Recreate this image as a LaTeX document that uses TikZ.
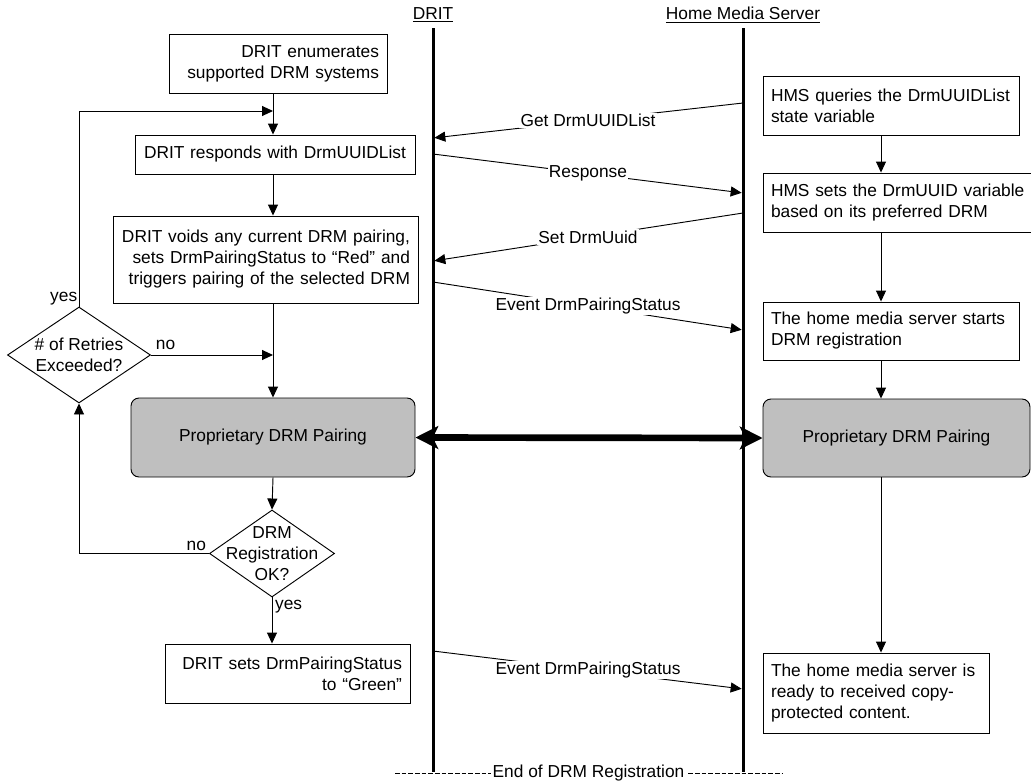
\documentclass[tikz,border=0pt]{standalone}
\usepackage{fontspec}
\setmainfont{Liberation Sans}
\usetikzlibrary{shapes.geometric}
\usetikzlibrary{arrows.meta}
\tikzset{
  box/.style={draw, inner xsep=6pt, inner ysep=0pt},
  pairing/.style={box, rounded corners=6pt, fill=black!25, align=center},
  decision/.style={diamond, draw, inner sep=0pt},
  flow/.style={-{Triangle[length=8.25pt,width=7.5pt]}},
  msg/.style={-{Triangle[length=8.25pt,width=7.5pt]}, shorten >=1pt},
  msgtext/.style={fill=white, inner sep=1pt},
  lifeline/.style={line width=2.25pt}
}

\begin{document}
\begin{tikzpicture}[x=0.75pt, y=-0.75pt, line width=0.7pt, font=\fontsize{13pt}{15.75pt}\selectfont]
		\useasboundingbox (0,0) rectangle (1031,782);
		% lifelines
		\node (drit) at (433,15) {\underline{DRIT}};
		\node (hms) at (743,15) {\underline{Home Media Server}};
		\coordinate (dtop) at (433,28);
		\coordinate (dbot) at (433,772);
		\coordinate (htop) at (743,28);
		\coordinate (hbot) at (743,772);
		\draw[lifeline] (dtop) -- (dbot);
		\draw[lifeline] (htop) -- (hbot);
		%
		\node[box, align=right, text width=151.5pt, minimum height=44.25pt] (enum) at (278,63.5) {DRIT enumerates\\supported DRM systems};
		\node[box, align=center, text width=198pt, minimum height=29.25pt] (resp) at (275,154.5) {DRIT responds with DrmUUIDList};
		\node[box, align=right, text width=216.75pt, minimum height=65.25pt] (void) at (265.5,259.5) {DRIT voids any current DRM pairing,\\sets DrmPairingStatus to “Red” and\\triggers pairing of the selected DRM};
		\node[decision, minimum width=107.25pt, minimum height=72pt, label={[align=center]center:\# of Retries\\Exceeded?}] (retry) at (79,355) {};
		\node[pairing, minimum width=213pt, minimum height=59.25pt] (pairL) at (273,437.5) {Proprietary DRM Pairing};
		\node[decision, minimum width=93.75pt, minimum height=65.25pt, label={[align=center]center:DRM\\Registration\\OK?}] (regok) at (272,553.5) {};
		\node[box, align=right, text width=171.75pt, minimum height=44.25pt] (green) at (287.5,673.5) {DRIT sets DrmPairingStatus\\to “Green”};
		%
		\node[box, align=left, text width=180pt, minimum height=44.25pt] (query) at (891,105.5) {HMS queries the DrmUUIDList\\state variable};
		\node[box, align=left, text width=192pt, minimum height=44.25pt] (setid) at (899,202.5) {HMS sets the DrmUUID variable\\based on its preferred DRM};
		\node[box, align=left, text width=180pt, minimum height=43.5pt] (starts) at (891,331) {The home media server starts\\DRM registration};
		\node[pairing, minimum width=200.25pt, minimum height=58.5pt] (pairR) at (896.5,438) {Proprietary DRM Pairing};
		\node[box, align=left, text width=157.5pt, minimum height=60pt] (ready) at (876,693) {The home media server is\\ready to received copy-\\protected content.};
		% left flow
		\coordinate (lx) at (273,0);
		\coordinate (loop) at (273,111);
		\draw[flow] (enum.south -| lx) -- (resp.north -| lx);
		\draw[flow] (resp.south -| lx) -- (void.north -| lx);
		\draw[flow] (void.south -| lx) -- (pairL.north -| lx);
		\draw[flow] (pairL.south -| lx) -- (regok.north);
		\draw[flow] (regok.south) node[below right, inner sep=2pt] {yes} -- (green.north -| regok.south);
		\draw[flow] (retry.north) node[above left, inner sep=1pt] {yes} |- (loop);
		\draw[flow] (retry.east) node[above right] {no} -- (retry.east -| lx);
		\draw[flow] (regok.west) node[above left, inner sep=2pt] {no} -| (retry.south);
		% right flow
		\coordinate (rx) at (881,0);
		\draw[flow] (query.south -| rx) -- (setid.north -| rx);
		\draw[flow] (setid.south -| rx) -- (starts.north -| rx);
		\draw[flow] (starts.south -| rx) -- (pairR.north -| rx);
		\draw[flow] (pairR.south -| rx) -- (ready.north -| rx);
		% messages
		\coordinate (h1) at (743,103);
		\coordinate (d1) at (433,138);
		\coordinate (d2) at (433,154);
		\coordinate (h2) at (743,193);
		\coordinate (h3) at (743,213);
		\coordinate (d3) at (433,261);
		\coordinate (d4) at (433,282);
		\coordinate (h4) at (743,330);
		\coordinate (d5) at (433,651);
		\coordinate (h5) at (743,689);
		\draw[msg] (h1) -- node[msgtext] {Get DrmUUIDList} (d1);
		\draw[msg] (d2) -- node[msgtext] {Response} (h2);
		\draw[msg] (h3) -- node[msgtext] {Set DrmUuid} (d3);
		\draw[msg] (d4) -- node[msgtext] {Event DrmPairingStatus} (h4);
		\draw[msg] (d5) -- node[msgtext] {Event DrmPairingStatus} (h5);
		\draw[line width=5pt, {Stealth[length=17pt,width=17pt,inset=4pt]}-{Stealth[length=17pt,width=17pt,inset=4pt]}] (pairL.east) -- (pairR.west);
		%
		\coordinate (endl) at (395,773);
		\coordinate (endr) at (782,773);
		\draw[dash pattern=on 3.5pt off 1.5pt] (endl) -- node[msgtext] {End of DRM Registration} (endr);
	\end{tikzpicture}
\end{document}
